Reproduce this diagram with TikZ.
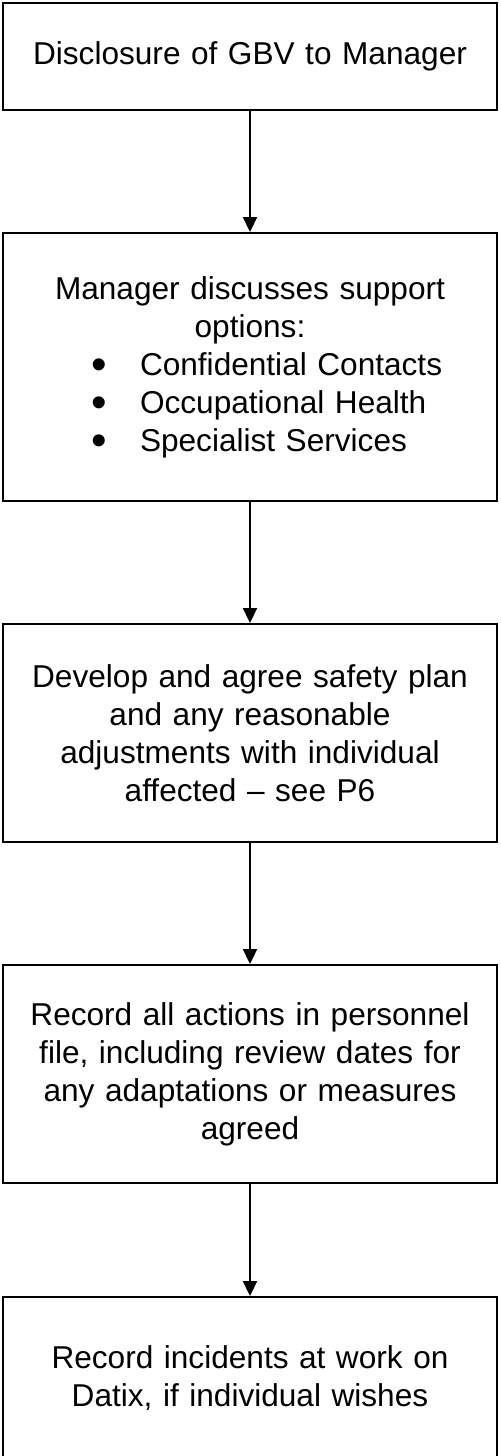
\documentclass[tikz,border=0pt]{standalone}
\usepackage{fontspec}
\setmainfont{Liberation Sans}
\usetikzlibrary{arrows.meta}
\newcommand{\optitem}[1]{\makebox[236pt][l]{\hspace*{39pt}\makebox[24pt][l]{\smash{\raisebox{-2.4pt}{\scalebox{1.4}{\textbullet}}}}#1}}
\begin{document}
\begin{tikzpicture}[x=0.5pt, y=-0.5pt, every node/.style={draw, line width=1pt, minimum width=247pt, text width=236pt, align=center, font=\fontsize{15.8}{19}\selectfont}]
  \useasboundingbox (0,0) rectangle (500,1456);
  \node[minimum height=53.5pt] (disclose) at (250,56.5) {Disclosure of GBV to Manager};
  \node[minimum height=134pt] (support) at (250,367) {Manager discusses support\\ options:\\
    \optitem{Confidential Contacts}\\ \optitem{Occupational Health}\\ \optitem{Specialist Services}};
  \node[minimum height=109pt] (safety) at (250,733) {Develop and agree safety plan\\ and any reasonable\\ adjustments with individual\\ affected – see P6};
  \node[minimum height=109pt] (record) at (250,1074) {Record all actions in personnel\\ file, including review dates for\\ any adaptations or measures\\ agreed};
  \node[minimum height=81pt] (datix) at (250,1378) {Record incidents at work on\\ Datix, if individual wishes};
  \draw[-{Triangle[width=7pt,length=7.5pt]}, line width=1.1pt] (disclose) -- (support);
  \draw[-{Triangle[width=7pt,length=7.5pt]}, line width=1.1pt] (support) -- (safety);
  \draw[-{Triangle[width=7pt,length=7.5pt]}, line width=1.1pt] (safety) -- (record);
  \draw[-{Triangle[width=7pt,length=7.5pt]}, line width=1.1pt] (record) -- (datix);
\end{tikzpicture}
\end{document}
